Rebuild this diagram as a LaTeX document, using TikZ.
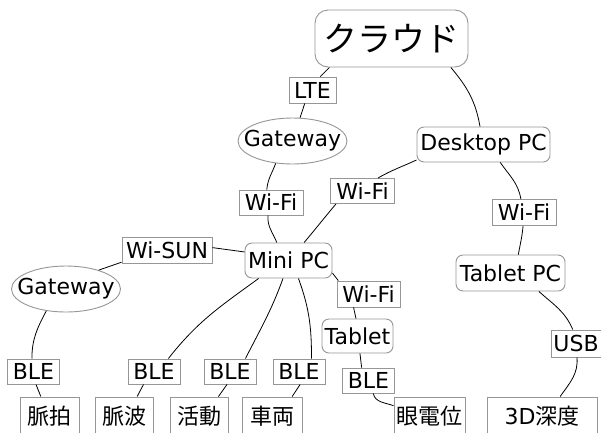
\documentclass[tikz,border=0pt]{standalone}
\usepackage{fontspec}
\setmainfont{DejaVu Sans}
\newfontfamily\jpfont{Noto Sans CJK JP}
\usetikzlibrary{shapes.geometric}
\definecolor{bordergray}{RGB}{150,150,150}
\newcommand\fsz{\fontsize{22}{25}\selectfont}
\tikzset{
  base/.style={draw=bordergray, line width=0.9pt, inner sep=0pt, font=\fsz, fill=white, text=black},
  lbl/.style={base, rectangle},
  rnd/.style={base, rectangle, rounded corners=7pt},
  ell/.style={base, ellipse},
  leaf/.style={base, rectangle, minimum height=38pt},
  conn/.style={line width=0.8pt, black}
}
\begin{document}
\begin{tikzpicture}[x=1pt,y=1pt]
\useasboundingbox (0,0) rectangle (601,-432);
% main nodes
\node[rnd, rounded corners=13pt, minimum width=153pt, minimum height=57pt, font=\jpfont\fontsize{34}{38}\selectfont] (cloud) at (391.5,-38.5) {クラウド};
\node[lbl, minimum width=47pt, minimum height=26pt] (lte) at (312.5,-90) {LTE};
\node[ell, minimum width=109pt, minimum height=46pt, label={[font=\fsz]center:Gateway}] (gw1) at (292.5,-141) {};
\node[rnd, minimum width=133pt, minimum height=35pt] (desk) at (483.5,-144.5) {Desktop PC};
\node[lbl, minimum width=64pt, minimum height=25pt] (wf1) at (271,-202.5) {Wi-Fi};
\node[lbl, minimum width=64pt, minimum height=25pt] (wf2) at (362.5,-191) {Wi-Fi};
\node[lbl, minimum width=64pt, minimum height=26pt] (wf3) at (524,-212.5) {Wi-Fi};
\node[rnd, minimum width=87pt, minimum height=35pt] (mini) at (288.5,-260.5) {Mini PC};
\node[lbl, minimum width=90pt, minimum height=26pt] (wsun) at (167,-250) {Wi-SUN};
\node[ell, minimum width=109pt, minimum height=46pt, label={[font=\fsz]center:Gateway}] (gw2) at (66,-289) {};
\node[rnd, minimum width=109pt, minimum height=36pt] (tpc) at (510.5,-273) {Tablet PC};
\node[lbl, minimum width=63pt, minimum height=26pt] (wf4) at (368.5,-294) {Wi-Fi};
\node[rnd, minimum width=71pt, minimum height=34pt] (tab) at (357.5,-336) {Tablet};
\node[lbl, minimum width=50pt, minimum height=27pt] (usb) at (576,-343.5) {USB};
\node[lbl, minimum width=52pt, minimum height=25pt] (ble1) at (33.5,-371.5) {BLE};
\node[lbl, minimum width=52pt, minimum height=25pt] (ble2) at (154,-371.5) {BLE};
\node[lbl, minimum width=52pt, minimum height=25pt] (ble3) at (230,-371.5) {BLE};
\node[lbl, minimum width=52pt, minimum height=25pt] (ble4) at (299,-371.5) {BLE};
\node[lbl, minimum width=52pt, minimum height=25pt] (blet) at (368.5,-380.5) {BLE};
% leaves
\node[leaf, minimum width=59pt] (pulse) at (49.5,-416) {\jpfont 脈拍};
\node[leaf, minimum width=58pt] (wave) at (124,-416) {\jpfont 脈波};
\node[leaf, minimum width=58pt] (act) at (199,-416) {\jpfont 活動};
\node[leaf, minimum width=60pt] (car) at (272,-416) {\jpfont 車両};
\node[leaf, minimum width=71pt] (eog) at (429.5,-416) {\jpfont 眼電位};
\node[leaf, minimum width=110pt] (depth) at (542,-416) {3D{\jpfont 深度}};
% connectors
\draw[conn] (cloud.205) -- (lte.60);
\draw[conn] (lte.240) -- (gw1.72);
\draw[conn] (cloud.334) to[out=-50,in=100] (desk.101);
\draw[conn] (gw1.233) to[out=-110,in=85] (wf1.108);
\draw[conn] (wf1.257) to[out=-95,in=112] (mini.123);
\draw[conn] (desk.193) to[out=205,in=30] (wf2.40);
\draw[conn] (wf2.206) to[out=230,in=50] (mini.49);
\draw[conn] (desk.313) to[out=-55,in=100] (wf3.103);
\draw[conn] (wf3.266) to[out=-95,in=80] (tpc.67);
\draw[conn] (mini.169) -- (wsun.3);
\draw[conn] (wsun.195) -- (gw2.30);
\draw[conn] (gw2.228) to[out=-118,in=90] (ble1.97);
\draw[conn] (ble1.281) -- (pulse.114);
\draw[conn] (mini.211) to[out=216,in=52] (ble2.42);
\draw[conn] (ble2.231) -- (wave.56);
\draw[conn] (mini.253) to[out=250,in=63] (ble3.40);
\draw[conn] (ble3.257) -- (act.45);
\draw[conn] (mini.299) to[out=-70,in=90] (ble4.46);
\draw[conn] (ble4.275) -- (car.44);
\draw[conn] (mini.344) -- (wf4.156);
\draw[conn] (wf4.222) -- (tab.95);
\draw[conn] (tab.278) -- (blet.118);
\draw[conn] (blet.290) to[out=-78,in=160] (eog.164);
\draw[conn] (tpc.327) to[out=-42,in=113] (usb.103);
\draw[conn] (usb.274) to[out=-85,in=55] (depth.47);
\end{tikzpicture}
\end{document}
